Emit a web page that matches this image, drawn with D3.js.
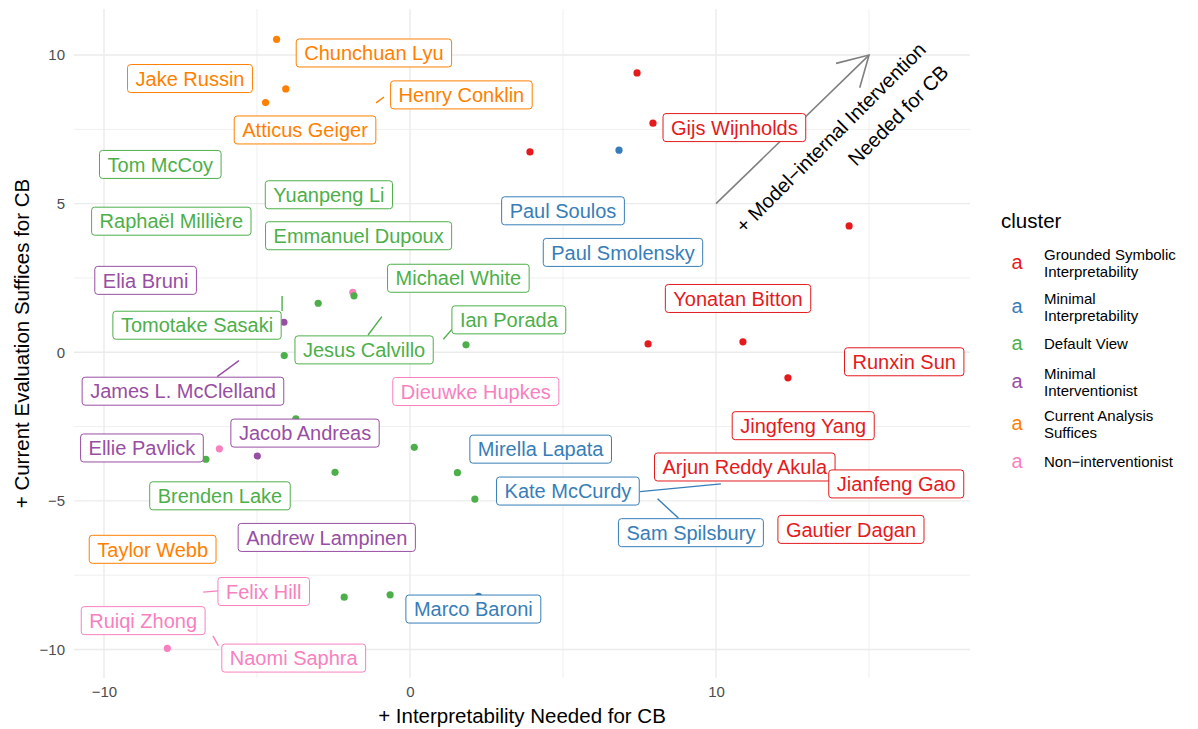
<!DOCTYPE html>
<html>
<head>
<meta charset="utf-8">
<script src="https://cdn.jsdelivr.net/npm/d3@7"></script>
<style>
	body { margin: 0; background: #fff; }
	svg text { font-family: "Liberation Sans", Arial, Helvetica, sans-serif; }
</style>
</head>
<body>
<div id="chart"></div>
<script>
// ---------------------------------------------
// data
// ---------------------------------------------
const clusterNames = ["Grounded Symbolic\nInterpretability", "Minimal\nInterpretability", "Default View",
	"Minimal\nInterventionist", "Current Analysis\nSuffices", "Non\u2212interventionist"];
const clusterColors = ["#E41A1C", "#377EB8", "#4DAF4A", "#984EA3", "#FF7F00", "#F781BF"];

// points (cluster index: 0 red, 1 blue, 2 green, 3 purple, 4 orange, 5 pink)
const pointX = [7.42, 7.94, 3.92, 14.35, 7.78, 10.88, 12.35,
	6.83, 2.24,
	-1.87, -6.23, -7.93,
	-3.00, -1.83, -4.11, 1.83, -3.73, -6.67, -2.45, 0.14, 1.55, 2.12, -2.15, -0.65,
	-4.12, -4.99,
	-4.36, -4.06, -4.72];
const pointY = [9.40, 7.71, 6.74, 4.25, 0.28, 0.35, -0.86,
	6.80, -8.21,
	2.02, -3.25, -9.96,
	1.65, 1.90, -0.11, 0.25, -2.24, -3.60, -4.04, -3.20, -4.05, -4.94, -8.24, -8.16,
	1.01, -3.49,
	10.53, 8.86, 8.40];
const pointCluster = [0, 0, 0, 0, 0, 0, 0,
	1, 1,
	5, 5, 5,
	2, 2, 2, 2, 2, 2, 2, 2, 2, 2, 2, 2,
	3, 3,
	4, 4, 4];

// repelled labels (centre of each label, data units)
const labelNames = ["Chunchuan Lyu", "Jake Russin", "Henry Conklin", "Atticus Geiger", "Tom McCoy",
	"Yuanpeng Li", "Rapha\u00ebl Milli\u00e8re", "Emmanuel Dupoux", "Gijs Wijnholds", "Paul Soulos",
	"Paul Smolensky", "Elia Bruni", "Michael White", "Tomotake Sasaki", "Jesus Calvillo",
	"Ian Porada", "James L. McClelland", "Dieuwke Hupkes", "Jacob Andreas", "Ellie Pavlick",
	"Yonatan Bitton", "Runxin Sun", "Jingfeng Yang", "Mirella Lapata", "Arjun Reddy Akula",
	"Jianfeng Gao", "Kate McCurdy", "Sam Spilsbury", "Gautier Dagan", "Marco Baroni",
	"Brenden Lake", "Andrew Lampinen", "Taylor Webb", "Felix Hill", "Ruiqi Zhong", "Naomi Saphra"];
const labelX = [-1.18, -7.19, 1.68, -3.43, -8.16,
	-2.65, -7.80, -1.68, 10.60, 5.00,
	6.96, -8.64, 1.58, -6.96, -1.50,
	3.23, -7.42, 2.15, -3.43, -8.76,
	10.72, 16.15, 12.85, 4.27, 10.94,
	15.89, 5.16, 9.18, 14.41, 2.07,
	-6.21, -2.72, -8.41, -4.78, -8.72, -3.80];
const labelY = [10.07, 9.21, 8.66, 7.48, 6.32,
	5.30, 4.41, 3.92, 7.56, 4.76,
	3.36, 2.42, 2.49, 0.91, 0.08,
	1.09, -1.31, -1.32, -2.72, -3.22,
	1.81, -0.32, -2.47, -3.26, -3.86,
	-4.43, -4.67, -6.07, -5.96, -8.64,
	-4.83, -6.23, -6.63, -8.05, -9.03, -10.29];
const labelCluster = [4, 4, 4, 4, 2,
	2, 2, 2, 0, 1,
	1, 3, 2, 2, 2,
	2, 3, 5, 3, 3,
	0, 0, 0, 1, 0,
	0, 1, 1, 0, 1,
	2, 3, 4, 5, 5, 5];

// label leader segments
const segX1 = [-0.85, -4.18, -1.37, 1.37, -6.30, 7.52, 8.77, -6.26, -6.26];
const segY1 = [8.59, 1.39, 0.58, 0.77, -0.82, -4.69, -5.58, -8.03, -9.87];
const segX2 = [-1.11, -4.18, -0.92, 1.09, -5.59, 10.16, 8.09, -6.76, -6.44];
const segY2 = [8.39, 1.89, 1.20, 0.44, -0.28, -4.43, -4.93, -8.07, -9.54];
const segCluster = [4, 2, 2, 2, 3, 1, 1, 5, 5];

// axes
const xDomain = [-10.98, 18.30];
const yDomain = [-10.96, 11.55];
const xTicks = [-10, 0, 10];
const xMinor = [-5, 5, 15];
const yTicks = [-10, -5, 0, 5, 10];
const yMinor = [-7.5, -2.5, 2.5, 7.5];
const xTitle = "+ Interpretability Needed for CB";
const yTitle = "+ Current Evaluation Suffices for CB";

// arrow annotation
const arrowFrom = [10, 5];
const arrowTo = [15, 10];
const noteAt = [16.90, 10.14];
const noteLines = ["+ Model\u2212internal Intervention", "Needed for CB"];

// ---------------------------------------------
// layout
// ---------------------------------------------
let width = 1198,
    height = 729,
    panel = {left: 74, right: 970, top: 9, bottom: 678};

let svg = d3.select('#chart')
	.append('svg')
	.attr('width', width)
	.attr('height', height);

let x = d3.scaleLinear().domain(xDomain).range([panel.left, panel.right]);
let y = d3.scaleLinear().domain(yDomain).range([panel.bottom, panel.top]);

let fmt = d => (d < 0 ? "\u2212" : "") + Math.abs(d);

// gridlines
let grid = svg.append('g');
grid.selectAll('.xminor').data(xMinor).enter().append('line')
	.attr('x1', d => x(d)).attr('x2', d => x(d))
	.attr('y1', panel.top).attr('y2', panel.bottom)
	.attr('stroke', '#EBEBEB').attr('stroke-width', 0.8);
grid.selectAll('.yminor').data(yMinor).enter().append('line')
	.attr('y1', d => y(d)).attr('y2', d => y(d))
	.attr('x1', panel.left).attr('x2', panel.right)
	.attr('stroke', '#EBEBEB').attr('stroke-width', 0.8);
grid.selectAll('.xmajor').data(xTicks).enter().append('line')
	.attr('x1', d => x(d)).attr('x2', d => x(d))
	.attr('y1', panel.top).attr('y2', panel.bottom)
	.attr('stroke', '#EBEBEB').attr('stroke-width', 1.4);
grid.selectAll('.ymajor').data(yTicks).enter().append('line')
	.attr('y1', d => y(d)).attr('y2', d => y(d))
	.attr('x1', panel.left).attr('x2', panel.right)
	.attr('stroke', '#EBEBEB').attr('stroke-width', 1.4);

// axes (ticks hidden, labels only)
let xAxis = svg.append('g')
	.attr('transform', 'translate(0,' + panel.bottom + ')')
	.call(d3.axisBottom(x).tickValues(xTicks).tickFormat(fmt).tickSize(0).tickPadding(8));
let yAxis = svg.append('g')
	.attr('transform', 'translate(' + panel.left + ',0)')
	.call(d3.axisLeft(y).tickValues(yTicks).tickFormat(fmt).tickSize(0).tickPadding(9));
[xAxis, yAxis].forEach(a => {
	a.select('.domain').remove();
	a.selectAll('text')
		.attr('fill', '#4D4D4D')
		.style('font-size', '15px')
		.style('font-family', '"Liberation Sans", Arial, sans-serif');
});

svg.append('text')
	.attr('x', (panel.left + panel.right) / 2)
	.attr('y', 723)
	.attr('text-anchor', 'middle')
	.style('font-size', '20.5px')
	.text(xTitle);
svg.append('text')
	.attr('transform', 'translate(29,' + ((panel.top + panel.bottom) / 2) + ') rotate(-90)')
	.attr('text-anchor', 'middle')
	.style('font-size', '20.5px')
	.text(yTitle);

// ---------------------------------------------
// arrow + note
// ---------------------------------------------
let ax1 = x(arrowFrom[0]), ay1 = y(arrowFrom[1]),
    ax2 = x(arrowTo[0]), ay2 = y(arrowTo[1]),
    ang = Math.atan2(ay2 - ay1, ax2 - ax1),
    headLen = 34, headAng = Math.PI / 6;

svg.append('line')
	.attr('x1', ax1).attr('y1', ay1).attr('x2', ax2).attr('y2', ay2)
	.attr('stroke', '#7F7F7F').attr('stroke-width', 1.6);
svg.append('path')
	.attr('d', 'M' + (ax2 - headLen * Math.cos(ang - headAng)) + ',' + (ay2 - headLen * Math.sin(ang - headAng))
		+ 'L' + ax2 + ',' + ay2
		+ 'L' + (ax2 - headLen * Math.cos(ang + headAng)) + ',' + (ay2 - headLen * Math.sin(ang + headAng)))
	.attr('fill', 'none').attr('stroke', '#7F7F7F').attr('stroke-width', 1.6);

let note = svg.append('text')
	.attr('transform', 'translate(' + x(noteAt[0]) + ',' + y(noteAt[1]) + ') rotate(-45)')
	.attr('text-anchor', 'end')
	.style('font-size', '20px');
note.selectAll('tspan').data(noteLines).enter().append('tspan')
	.attr('x', 0)
	.attr('dy', (d, i) => i === 0 ? 0 : 32)
	.text(d => d);

// ---------------------------------------------
// points, segments, labels
// ---------------------------------------------
svg.append('g').selectAll('circle')
	.data(d3.range(pointX.length))
	.enter().append('circle')
	.attr('cx', i => x(pointX[i]))
	.attr('cy', i => y(pointY[i]))
	.attr('r', 3.6)
	.attr('fill', i => clusterColors[pointCluster[i]]);

svg.append('g').selectAll('line')
	.data(d3.range(segX1.length))
	.enter().append('line')
	.attr('x1', i => x(segX1[i])).attr('y1', i => y(segY1[i]))
	.attr('x2', i => x(segX2[i])).attr('y2', i => y(segY2[i]))
	.attr('stroke', i => clusterColors[segCluster[i]])
	.attr('stroke-width', 1.4);

let labels = svg.append('g').selectAll('g')
	.data(d3.range(labelNames.length))
	.enter().append('g')
	.attr('transform', i => 'translate(' + x(labelX[i]) + ',' + y(labelY[i]) + ')');

labels.append('rect');
labels.append('text')
	.attr('text-anchor', 'middle')
	.attr('dy', '0.36em')
	.attr('fill', i => clusterColors[labelCluster[i]])
	.style('font-size', '20px')
	.text(i => labelNames[i]);

labels.each(function(i) {
	let g = d3.select(this),
	    w = g.select('text').node().getComputedTextLength() + 16,
	    h = 28;
	g.select('rect')
		.attr('x', -w / 2).attr('y', -h / 2)
		.attr('width', w).attr('height', h)
		.attr('rx', 3).attr('ry', 3)
		.attr('fill', '#fff')
		.attr('stroke', clusterColors[labelCluster[i]])
		.attr('stroke-width', 1);
});

// ---------------------------------------------
// legend
// ---------------------------------------------
let legend = svg.append('g');
legend.append('text')
	.attr('x', 1001).attr('y', 228)
	.style('font-size', '20.5px')
	.text('cluster');

const legendY = [263, 307, 344, 382, 424, 462];
let items = legend.selectAll('.item')
	.data(clusterNames)
	.enter().append('g')
	.attr('transform', (d, i) => 'translate(0,' + legendY[i] + ')');
items.append('text')
	.attr('x', 1017).attr('dy', '0.3em')
	.attr('text-anchor', 'middle')
	.attr('fill', (d, i) => clusterColors[i])
	.style('font-size', '20px')
	.text('a');
items.append('text')
	.attr('x', 1044)
	.style('font-size', '15px')
	.each(function(d) {
		let parts = d.split('\n'),
		    t = d3.select(this);
		parts.forEach((p, k) => {
			t.append('tspan')
				.attr('x', 1044)
				.attr('y', (k - (parts.length - 1) / 2) * 17)
				.attr('dy', '0.35em')
				.text(p);
		});
	});
</script>
</body>
</html>
